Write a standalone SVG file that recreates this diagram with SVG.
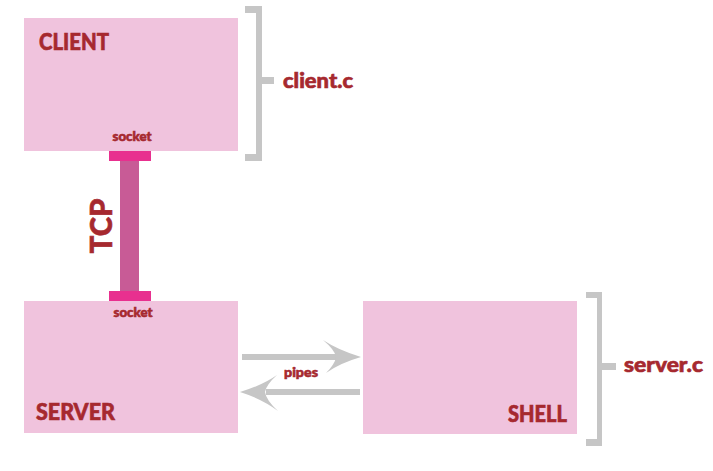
<svg xmlns="http://www.w3.org/2000/svg" width="713" height="471" viewBox="0 0 713 471">
<style>
.box{fill:#f0c3dd}
.t{font-family:Lato,"Open Sans",sans-serif;font-weight:900;fill:#a6292f;stroke:#a6292f;stroke-width:0.6}
.gray{fill:#c6c6c6}
.sock{fill:#e8308f}
</style>
<rect width="713" height="471" fill="#fff"/>
<g id="client">
<rect class="box" x="24" y="18" width="214" height="133"/>
<text class="t" x="39" y="50" font-size="22" textLength="70" lengthAdjust="spacingAndGlyphs">CLIENT</text>
<text class="t" x="132" y="141" font-size="13" text-anchor="middle" textLength="39" lengthAdjust="spacingAndGlyphs">socket</text>
</g>
<g id="server">
<rect class="box" x="24" y="301" width="214" height="132"/>
<text class="t" x="133" y="317" font-size="13" text-anchor="middle" textLength="39" lengthAdjust="spacingAndGlyphs">socket</text>
<text class="t" x="36" y="420" font-size="22" textLength="79" lengthAdjust="spacingAndGlyphs">SERVER</text>
</g>
<g id="shell">
<rect class="box" x="363" y="301" width="214" height="133"/>
<text class="t" x="508" y="422" font-size="22" textLength="59" lengthAdjust="spacingAndGlyphs">SHELL</text>
</g>
<g id="client-bracket">
<path class="gray" d="M245,6 H262 V161 H245 V154 H256 V13 H245 Z"/>
<rect class="gray" x="261" y="77" width="13" height="7"/>
<text class="t" x="283" y="88" font-size="20" textLength="70" lengthAdjust="spacingAndGlyphs">client.c</text>
</g>
<g id="server-bracket">
<path class="gray" d="M586,292 H602 V446 H586 V439 H597 V298 H586 Z"/>
<rect class="gray" x="602" y="363" width="14" height="7"/>
<text class="t" x="624" y="372" font-size="20" textLength="79" lengthAdjust="spacingAndGlyphs">server.c</text>
</g>
<g id="connectors">
<rect class="sock" x="109" y="151" width="42" height="10"/>
<rect x="120" y="161" width="19" height="130" fill="#c85b96"/>
<rect class="sock" x="109" y="291" width="42" height="10"/>
<text class="t" transform="translate(112,226) rotate(-90)" font-size="30" text-anchor="middle" textLength="55" lengthAdjust="spacingAndGlyphs">TCP</text>
<g class="gray">
<rect x="242" y="354" width="94" height="6"/>
<path d="M361,357 Q338,350 323,340 Q335,350 336,357 Q335,364 326,373 Q340,363 361,357 Z"/>
<rect x="266" y="389" width="94" height="6"/>
<path d="M240,392 Q263,385 277,375 Q266,385 265,392 Q266,400 278,411 Q262,399 240,392 Z"/>
</g>
<text class="t" x="301" y="377" font-size="13.5" text-anchor="middle" textLength="34" lengthAdjust="spacingAndGlyphs">pipes</text>
</g>
</svg>
